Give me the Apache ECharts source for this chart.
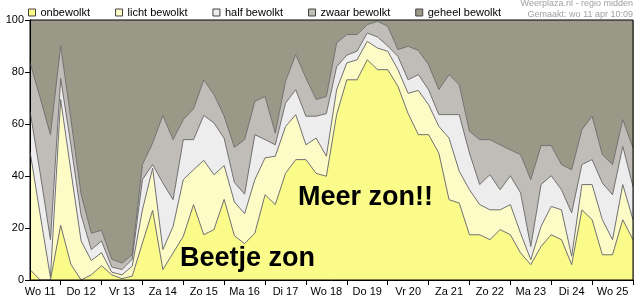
<!DOCTYPE html>
<html><head><meta charset="utf-8">
<script src="https://cdn.jsdelivr.net/npm/echarts@6/dist/echarts.min.js"></script>
<style>html,body{margin:0;padding:0;background:#fff}#c{width:635px;height:300px}</style>
</head><body><div id="c"></div>
<script>
const days = ['Wo 11','Do 12','Vr 13','Za 14','Zo 15','Ma 16','Di 17','Wo 18','Do 19','Vr 20','Za 21','Zo 22','Ma 23','Di 24','Wo 25','Do 26'];
const hoursOfDay = ['00:00','06:00','12:00','18:00'];
const seriesNames = ['onbewolkt','licht bewolkt','half bewolkt','zwaar bewolkt','geheel bewolkt'];
const seriesColors = ['#fbfb8a','#fdfcc6','#ededed','#c0bdb8','#9a9988'];
const yTicks = [0, 20, 40, 60, 80, 100];

const onbewolkt = [4,0,0,21,6,0,2,5.5,2,0.5, 1.5,14.2,26.8,4,10.4,16.8,29,17.4,19.4,31, 17,14,18,32.8,29,41,46.3,46.3,41,39.9, 63.6,77,77,84.7,80.9,80.9,74.5,64,55.9,55.9, 48.8,30.9,29.6,17.4,17.4,15.5,19.4,17.4,10.4,5.9, 12.9,17.4,15.5,5.9,27,23.2,9.7,9.7,23.2,15.5];
const lichtBewolkt = [45.5,25,1,48.4,36,15,5.5,5,1,1.5, 3.8,12.8,16.2,7.7,10.2,21.8,13.4,28.6,21.1,13, 13,11.5,20.6,14.2,18.6,18,17.3,5.7,13.6,7.7, 9.6,6.5,7.7,7.1,8.3,7.1,6.4,7.8,17,11.5, 10.3,23.7,12.2,17.3,11.6,11.5,7.6,11.6,7.6,1.9, 7.7,10.9,11.5,3.2,9.7,13.5,13.5,5.8,13.5,7.7];
const halfBewolkt = [15.5,16,14.5,8.1,10,10,4.2,4.5,2,2, 2.7,11.6,1.4,25.6,10.3,15.4,11.6,17.3,19.9,10.5, 7.5,7.5,17.3,7,4.4,9,9.6,11,8.4,16.4, 8.8,3,3.3,3.2,4.3,2,5.1,5.2,6.1,5.8, 4.5,9,21.8,14.1,7.7,13.5,7.7,11.1,15.5,5.1, 16.1,11.8,7.7,16.7,7.7,9.6,14.1,17.3,14.7,12.8];
const zwaarBewolkt = [18.7,29,40.4,12.6,10,8,6.3,4.1,3,2.5, 1.7,5.8,8.3,26,23.1,7.7,11.8,13.7,10.9,8.5, 13.5,21,12.8,16.6,4.5,8.4,13.5,14.7,6.4,6.6, 9.2,7.9,6.4,3.2,6,7.6,2.6,12.9,9.3,9.6, 9.6,15.4,11.5,8.4,17.3,13.5,17.3,10,14.7,25.7, 15,11.6,9.7,16.6,13.4,16.7,10.9,11.6,10.3,14.8];
const geheelBewolkt = [16.3,30,44.1,9.9,38,67,82,80.9,92,93.5, 90.3,55.6,47.3,36.7,46,38.3,34.2,23,28.7,37, 49,46,31.3,29.4,43.5,23.6,13.3,22.3,30.6,29.4, 8.8,5.6,5.6,1.8,0.5,2.4,11.4,10.1,11.7,17.2, 26.8,21,24.9,42.8,46,46,48,49.9,51.8,61.4, 48.3,48.3,55.6,57.6,42.2,37,51.8,55.6,38.3,49.2];

const slots = onbewolkt.map((_, i) => {
  const t = i + 1;
  return days[Math.floor(t / 4)] + ' ' + hoursOfDay[t % 4];
});
const allSeries = [onbewolkt, lichtBewolkt, halfBewolkt, zwaarBewolkt, geheelBewolkt];
const FONT = 'Liberation Sans, Arial, sans-serif';

const chart = echarts.init(document.getElementById('c'), null, {renderer: 'canvas'});
chart.setOption({
  animation: false,
  grid: {left: 30, right: 2, top: 20, bottom: 20, show: true, z: 4, borderColor: '#000', borderWidth: 1, backgroundColor: 'transparent'},
  legend: {
    left: 28, top: 6, padding: 0, itemWidth: 7, itemHeight: 7, itemGap: 25, icon: 'rect',
    itemStyle: {borderColor: '#404040', borderWidth: 1},
    textStyle: {fontSize: 11, color: '#000', fontFamily: FONT, lineHeight: 13},
    data: seriesNames, selectedMode: false
  },
  xAxis: [
    {
      type: 'category', data: slots, boundaryGap: false, z: 3,
      axisLine: {lineStyle: {color: '#000', width: 1}},
      axisTick: {interval: (i) => i % 4 === 3, length: 5, lineStyle: {color: '#000'}},
      axisLabel: {interval: (i) => i % 4 === 1, formatter: (v, i) => days[(i - 1) / 4], color: '#000', fontSize: 11, fontFamily: FONT, margin: 6},
      splitLine: {show: true, interval: (i) => i % 4 === 3, lineStyle: {color: 'rgba(50,50,30,0.55)', width: 1}}
    },
    {
      type: 'value', min: 0, max: slots.length - 1, interval: 1, position: 'top', z: 3,
      axisLine: {show: false}, axisTick: {show: false}, axisLabel: {show: false},
      splitLine: {show: true, lineStyle: {color: 'rgba(185,185,160,0.4)', width: 1}}
    }
  ],
  yAxis: {
    type: 'value', min: yTicks[0], max: yTicks[yTicks.length - 1], interval: yTicks[1] - yTicks[0], z: 3,
    axisLine: {show: true, lineStyle: {color: '#000'}},
    axisTick: {show: true, length: 5, lineStyle: {color: '#000'}},
    axisLabel: {color: '#000', fontSize: 11, fontFamily: FONT, margin: 6},
    splitLine: {show: true, lineStyle: {color: 'rgba(185,185,160,0.45)', width: 1}}
  },
  series: seriesNames.map((name, k) => ({
    name, type: 'line', stack: 'wolken', data: allSeries[k], xAxisIndex: 0,
    symbol: 'none', showSymbol: false, smooth: false,
    lineStyle: {color: '#707070', width: k === 4 ? 0 : 1},
    itemStyle: {color: seriesColors[k]},
    areaStyle: {color: seriesColors[k], opacity: 1},
    emphasis: {disabled: true}
  })),
  graphic: [
    {type: 'text', right: 2, top: -1, z: 10, style: {text: 'Weerplaza.nl - regio midden', font: '9px ' + FONT, fill: '#a0a0a0'}},
    {type: 'text', right: 2, top: 10, z: 10, style: {text: 'Gemaakt: wo 11 apr 10:09', font: '9px ' + FONT, fill: '#a0a0a0'}},
    {type: 'text', left: 180, top: 245, z: 10, style: {text: 'Beetje zon', font: 'bold 27px ' + FONT, fill: '#000'}},
    {type: 'text', left: 298, top: 184, z: 10, style: {text: 'Meer zon!!', font: 'bold 27px ' + FONT, fill: '#000'}}
  ]
});
</script></body></html>
